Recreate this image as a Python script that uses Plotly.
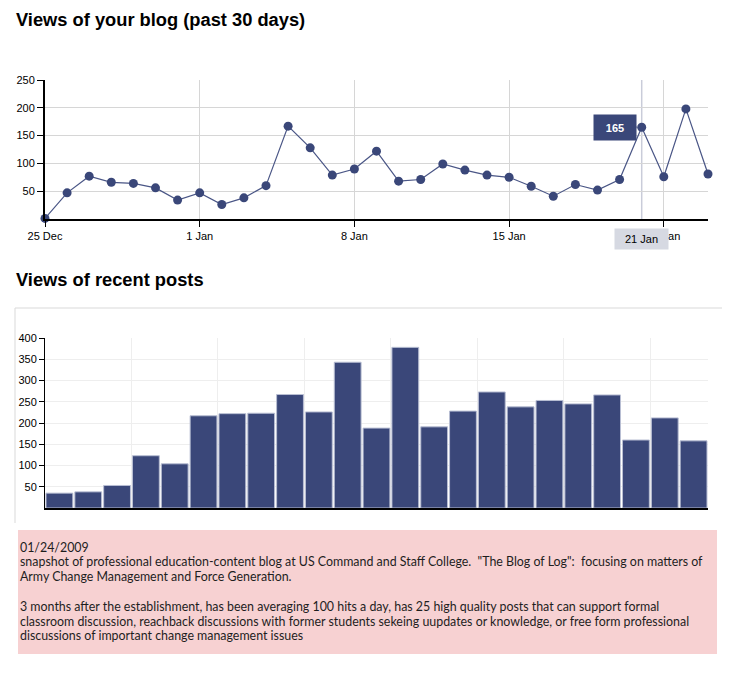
import pandas as pd
import plotly.graph_objects as go
from plotly.subplots import make_subplots

# daily views, 25 Dec 2008 .. 24 Jan 2009
days = pd.date_range("2008-12-25", "2009-01-24", freq="D")
daily_views = [1, 47, 77, 66, 64, 56, 34, 47, 26, 38, 60, 167, 128, 79, 90,
               122, 68, 71, 99, 88, 79, 75, 59, 41, 62, 52, 71, 165, 76, 198, 81]

# views of the recent posts
posts = list(range(23))
post_views = [35, 38, 53, 123, 104, 217, 222, 223, 267, 226, 343, 188, 378,
              191, 228, 273, 238, 253, 245, 266, 160, 212, 158]

hover_day = 27  # 21 Jan, the point with the tooltip

notes = [
    "01/24/2009",
    "snapshot of professional education-content blog at US Command and Staff College.  \"The Blog of Log\":  focusing on matters of",
    "Army Change Management and Force Generation.",
    "",
    "3 months after the establishment, has been averaging 100 hits a day, has 25 high quality posts that can support formal",
    "classroom discussion, reachback discussions with former students sekeing uupdates or knowledge, or free form professional",
    "discussions of important change management issues",
]

W, H = 730, 700
PAGE_PAD = 8  # the page body margin shifts the figure
NAVY = "#3a4779"


def px_x(v):
    return (v - PAGE_PAD) / W


def px_y(v):
    return 1 - (v - PAGE_PAD) / H


fig = make_subplots(rows=2, cols=1)

fig.add_trace(go.Scatter(
    x=days, y=daily_views, mode="lines+markers",
    line=dict(color="#4a5686", width=1.2),
    marker=dict(color=NAVY, size=9),
    cliponaxis=False, showlegend=False,
), row=1, col=1)

fig.add_trace(go.Bar(
    x=posts, y=post_views,
    marker=dict(color=NAVY, line=dict(color="#b8bed3", width=1)),
    showlegend=False,
), row=2, col=1)

tick_font = dict(family="Liberation Sans, Arial", size=11, color="#000")

fig.update_layout(
    width=W, height=H,
    margin=dict(l=0, r=0, t=0, b=0, autoexpand=False),
    paper_bgcolor="white", plot_bgcolor="white",
    bargap=0.07,
    xaxis=dict(
        domain=[px_x(45), px_x(708)],
        range=[days[0], days[-1]],
        tick0="2008-12-25", dtick=7 * 86400000, tickformat="%-d %b",
        showgrid=True, gridcolor="#d6d6d6", gridwidth=1,
        showline=True, linecolor="#000", linewidth=2,
        ticks="outside", ticklen=6, tickcolor="#000", tickwidth=1,
        tickfont=tick_font, zeroline=False, automargin=False,
    ),
    yaxis=dict(
        domain=[px_y(219), px_y(80)],
        range=[0, 250], tickvals=[50, 100, 150, 200, 250],
        showgrid=True, gridcolor="#d6d6d6", gridwidth=1,
        showline=True, linecolor="#000", linewidth=2,
        ticks="outside", ticklen=6, tickcolor="#000", tickwidth=1,
        tickfont=tick_font, zeroline=False, automargin=False,
    ),
    xaxis2=dict(
        domain=[px_x(45), px_x(708)],
        range=[-0.5, len(posts) - 0.5],
        tick0=2.5, dtick=3, showticklabels=False,
        showgrid=True, gridcolor="#eeeeee", gridwidth=1,
        showline=True, linecolor="#000", linewidth=1.5,
        ticks="", zeroline=False, automargin=False,
    ),
    yaxis2=dict(
        domain=[px_y(508), px_y(338)],
        range=[0, 400], tickvals=[50, 100, 150, 200, 250, 300, 350, 400],
        showgrid=True, gridcolor="#eeeeee", gridwidth=1,
        showline=True, linecolor="#000", linewidth=1,
        ticks="outside", ticklen=5, tickcolor="#000", tickwidth=1,
        tickfont=tick_font, zeroline=False, automargin=False,
    ),
)

# hover spike line at 21 Jan
fig.add_shape(type="line", xref="x", yref="y domain",
              x0=days[hover_day], x1=days[hover_day], y0=0, y1=1,
              line=dict(color="#c9ccd9", width=1.5), layer="below")

# box around the post chart, and the pink note box
border = dict(color="#d9d9d9", width=1)
fig.add_shape(type="line", xref="paper", yref="paper",
              x0=px_x(15), x1=px_x(15), y0=px_y(523), y1=px_y(308), line=border)
fig.add_shape(type="line", xref="paper", yref="paper",
              x0=px_x(15), x1=px_x(727), y0=px_y(308), y1=px_y(308), line=border)
fig.add_shape(type="line", xref="paper", yref="paper",
              x0=px_x(726), x1=px_x(726), y0=px_y(523), y1=px_y(308), line=border)
fig.add_shape(type="rect", xref="paper", yref="paper",
              x0=px_x(18), x1=px_x(717), y0=px_y(654), y1=px_y(530),
              fillcolor="#f7d1d2", line=dict(width=0), layer="below")

title_font = dict(family="Liberation Sans, Arial", size=18.3, color="#000")
fig.add_annotation(text="<b>Views of your blog (past 30 days)</b>",
                   xref="paper", yref="paper", x=px_x(14), y=px_y(20),
                   xanchor="left", yanchor="middle", showarrow=False, font=title_font)
fig.add_annotation(text="<b>Views of recent posts</b>",
                   xref="paper", yref="paper", x=px_x(14), y=px_y(279),
                   xanchor="left", yanchor="middle", showarrow=False, font=title_font)

# tooltip for 21 Jan
fig.add_annotation(text="<b>165</b>", x=days[hover_day], y=daily_views[hover_day],
                   xref="x", yref="y", showarrow=True, ax=-27, ay=0,
                   arrowhead=0, arrowwidth=2, arrowcolor=NAVY, standoff=5,
                   bgcolor=NAVY, borderpad=4, width=34, height=17,
                   font=dict(family="Liberation Sans, Arial", size=11, color="white"))
fig.add_annotation(text="21 Jan", x=days[hover_day], y=0, xref="x", yref="y",
                   yanchor="top", yshift=-9, showarrow=False,
                   bgcolor="#d6d9e2", borderpad=4, width=45, height=12,
                   font=dict(family="Liberation Sans, Arial", size=11, color="#000"))

# note text, one annotation per line
for i, line in enumerate(notes):
    if not line:
        continue
    fig.add_annotation(text=line, xref="paper", yref="paper",
                       x=px_x(18), y=px_y(547 + 14.8 * i),
                       xanchor="left", yanchor="middle", align="left", showarrow=False,
                       font=dict(family="Lato", size=12.4, color="#1e1e1e"))

fig.write_html("out.html")
